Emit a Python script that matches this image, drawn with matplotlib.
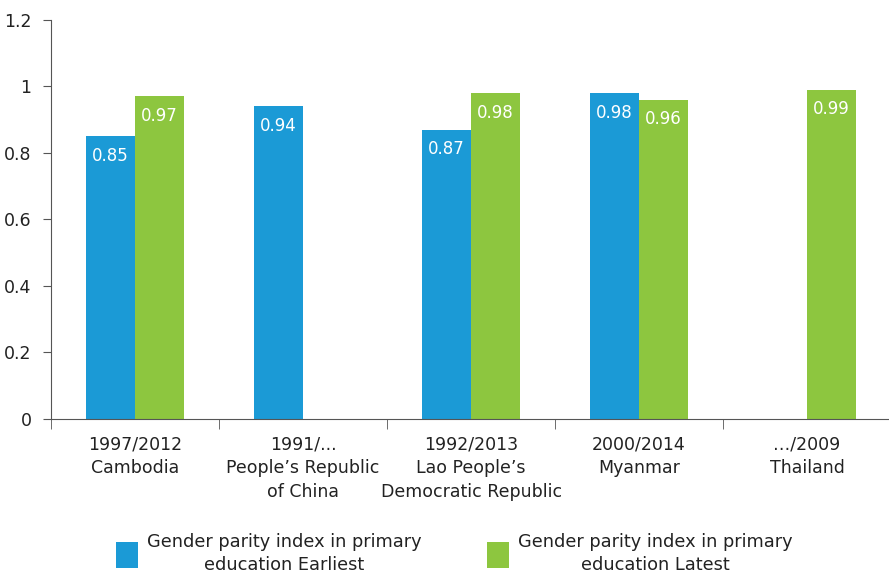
import numpy as np
import matplotlib
matplotlib.use("Agg")
import matplotlib.pyplot as plt

# data
categories = ["1997/2012\nCambodia", "1991/...\nPeople\u2019s Republic\nof China",
              "1992/2013\nLao People\u2019s\nDemocratic Republic", "2000/2014\nMyanmar",
              "\u2026/2009\nThailand"]
earliest = [0.85, 0.94, 0.87, 0.98, np.nan]
latest = [0.97, np.nan, 0.98, 0.96, 0.99]
series_names = ["Gender parity index in primary\neducation Earliest",
                "Gender parity index in primary\neducation Latest"]
colors = ["#1B9AD6", "#8DC63F"]

narrow = ["Liberation Sans Narrow", "DejaVu Sans"]

fig = plt.figure(figsize=(8.89, 5.86), dpi=100)
ax = fig.add_axes([0.0574, 0.285, 0.945, 0.681])

x = np.arange(len(categories))
w = 0.29
handles = []
for i, (vals, col) in enumerate(zip([earliest, latest], colors)):
    offs = (i - 0.5) * w
    vals = np.array(vals, dtype=float)
    ok = ~np.isnan(vals)
    b = ax.bar(x[ok] + offs, vals[ok], width=w, color=col, label=series_names[i])
    handles.append(b)
    for xi, v in zip(x[ok] + offs, vals[ok]):
        ax.annotate(f"{v:.2f}", (xi, v), xytext=(0, -7.5), textcoords="offset points",
                    ha="center", va="top", color="white", fontsize=12)

ax.set_xlim(-0.5, len(categories) - 0.5)
ax.set_ylim(0, 1.2)
ax.set_yticks([0, 0.2, 0.4, 0.6, 0.8, 1.0, 1.2])
ax.set_yticklabels(["0", "0.2", "0.4", "0.6", "0.8", "1", "1.2"], fontsize=12.5, color="#222222")
ax.tick_params(axis="y", length=6, color="#555555", pad=8)

ax.set_xticks(x)
ax.set_xticklabels(categories, fontsize=12.5, family=narrow, color="#222222", linespacing=1.4)
ax.tick_params(axis="x", which="major", length=0, pad=12)
ax.set_xticks(np.arange(len(categories)) - 0.5, minor=True)
ax.tick_params(axis="x", which="minor", length=7, color="#555555")

for s in ["top", "right"]:
    ax.spines[s].set_visible(False)
for s in ["left", "bottom"]:
    ax.spines[s].set_color("#555555")

leg = fig.legend(handles=handles, loc="center", bbox_to_anchor=(0.511, 0.055), ncol=2,
                 frameon=False, prop={"family": narrow, "size": 12.8},
                 handlelength=1.25, handleheight=1.8, columnspacing=3.7, handletextpad=0.5)
for t in leg.get_texts():
    t.set_multialignment("center")
    t.set_linespacing(1.35)
    t.set_color("#222222")

fig.savefig("out.png", dpi=100)
